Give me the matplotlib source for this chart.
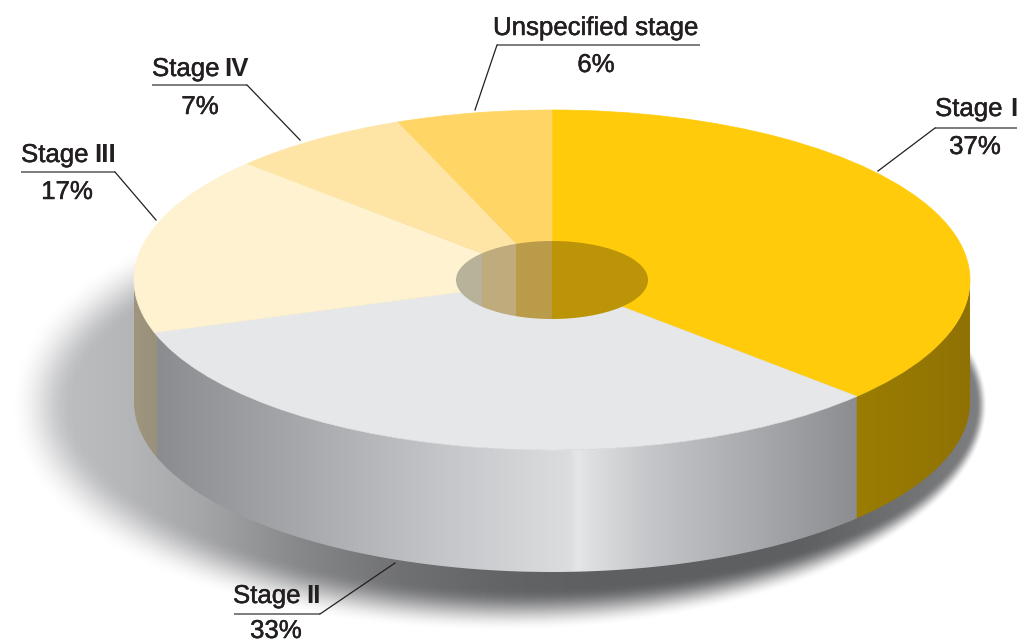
#!/usr/bin/env python

import numpy as np
import matplotlib
matplotlib.use('Agg')
import matplotlib.pyplot as plt
import matplotlib.patheffects as pe
from matplotlib.patches import Polygon, Ellipse, Rectangle
from matplotlib.colors import LinearSegmentedColormap

plt.rcParams['font.family'] = ['Liberation Sans', 'DejaVu Sans']

names = ['Stage I', 'Stage II', 'Stage III', 'Stage IV', 'Unspecified stage']
shares = [37, 33, 17, 7, 6]
colors = ['#ffcb0b', '#e6e7e8', '#fef2d0', '#fee5a6', '#ffd666']

W, H = 1022, 642
cx, cy, rx, ry, depth = 552, 280, 418, 170, 122
ink = '#231f20'

fig = plt.figure(figsize=(W / 100, H / 100), dpi=100)
back = fig.add_axes([0, 0, 1, 1])


def pixel_axes(ax):
    ax.set_xlim(0, W)
    ax.set_ylim(H, 0)
    ax.set_aspect('auto')
    ax.axis('off')


# soft shadow under the slab, darker and tighter towards the right
yy, xx = np.mgrid[0:H, 0:W] + 0.5
sx, sy, srx, sry = 512, 405, 470, 205
u, v = (xx - sx) / srx, (yy - sy) / sry
r = np.hypot(u, v) + 1e-6
grad = np.hypot(u / srx, v / sry) / r
dist = (r - 1) / grad
blur = np.interp(xx, [30, 300, 600, 800, 990], [62, 48, 40, 30, 10])
t = np.clip(0.5 - dist / blur, 0, 1)
alpha = t * t * (3 - 2 * t)
level = np.interp(xx, [30, 130, 200, 300, 400, 500, 600, 800, 990],
                  [0.76, 0.71, 0.65, 0.53, 0.44, 0.39, 0.37, 0.37, 0.50])
rgba = np.dstack([level, level + 0.003, level + 0.012, alpha])
back.imshow(rgba, extent=(0, W, H, 0), interpolation='bilinear', zorder=1)


def wall(start, stop, stops, z):
    # side of the slab between two pie angles (degrees, clockwise from top)
    th = np.radians(90 - np.linspace(start, stop, 120))
    x = cx + rx * np.cos(th)
    y = cy - ry * np.sin(th)
    pts = np.r_[np.c_[x, y], np.c_[x, y + depth][::-1]]
    poly = Polygon(pts, closed=True, transform=back.transData, fc='none', ec='none')
    back.add_patch(poly)
    x0, x1 = stops[0][0], stops[-1][0]
    cmap = LinearSegmentedColormap.from_list(
        'wall', [((p - x0) / (x1 - x0), c) for p, c in stops], N=512)
    im = back.imshow(np.linspace(0, 1, 512)[None, :], cmap=cmap, aspect='auto',
                     extent=(x0, x1, y.max() + depth + 2, y.min() - 2), zorder=z)
    im.set_clip_path(poly)


edges = np.cumsum(shares) / np.sum(shares) * 360
# gold and tan run a little under the grey so no seam shows
wall(edges[0] + 2, 90, [(845, '#9c7e02'), (970, '#8f7204')], 2)
wall(edges[1] - 2, 270, [(134, '#a0967f'), (170, '#968d79')], 2)
wall(edges[0], edges[1], [(157, '#8b8c90'), (300, '#a7a8ac'), (450, '#c6c7cb'),
                          (570, '#dcddde'), (578, '#e5e6e7'), (592, '#dddee0'),
                          (650, '#c5c6c9'), (750, '#aaabaf'), (858, '#8c8d91')], 3)
pixel_axes(back)

# top of the slab
top = fig.add_axes([(cx - rx) / W, 1 - (cy + ry) / H, 2 * rx / W, 2 * ry / H])
wedges, _ = top.pie(shares, colors=colors, startangle=90, counterclock=False, radius=1)
for w in wedges:
    w.set_edgecolor(w.get_facecolor())
    w.set_linewidth(0.5)
top.set_aspect('auto')
top.set_xlim(-1, 1)
top.set_ylim(-1, 1)
top.patch.set_alpha(0)
top.axis('off')

front = fig.add_axes([0, 0, 1, 1])
front.patch.set_alpha(0)
pixel_axes(front)

# centre hole, banded like the original
hole = Ellipse((cx, 280), 192, 78, fc='none', ec='none', transform=front.transData)
front.add_patch(hole)
bands = [(456, 482, '#b8b29a'), (482, 516, '#bfab7b'), (516, 552, '#b99b49'), (552, 649, '#bb9408')]
for x0, x1, c in bands:
    band = Rectangle((x0, 235), x1 - x0, 90, fc=c, ec='none', zorder=3)
    front.add_patch(band)
    band.set_clip_path(hole)

# name, numeral, name left x, numeral right x, baseline, rule y, rule x range, leader end, pct x, pct baseline
labels = [
    ('Stage', 'I', 935, 1017, 116, 128, (935, 1017), (878, 171), 975, 154),
    ('Stage', 'II', 233, 321, 603, 614, (234, 320), (395, 563), 276, 638),
    ('Stage', 'III', 21, 116, 162, 172, (21, 115), (156, 220), 67, 199),
    ('Stage', 'IV', 152, 249, 76, 85, (152, 247), (300, 140), 200, 114),
    ('Unspecified stage', '', 493, 701, 35, 45, (497, 700), (475, 110), 596, 72),
]
pcts = [str(s) + '%' for s in shares]
heavier = [pe.withStroke(linewidth=0.35, foreground=ink)]
fs = 18.6

for (word, num, xl, xr, base, rule, (r0, r1), end, px, pbase), pct in zip(labels, pcts):
    front.text(xl, base, word, fontsize=fs, color=ink, ha='left', va='baseline', path_effects=heavier)
    if num:
        front.text(xr, base, num, fontsize=fs, color=ink, ha='right', va='baseline', fontweight='bold')
    front.text(px, pbase, pct, fontsize=fs, color=ink, ha='center', va='baseline', path_effects=heavier)
    front.plot([r0, r1], [rule, rule], color='#58595b', lw=1.1, solid_capstyle='butt')
    corner = r0 if end[0] < (r0 + r1) / 2 else r1
    front.plot([corner, end[0]], [rule, end[1]], color=ink, lw=0.9)

pixel_axes(front)
fig.savefig('out.png', dpi=100)
